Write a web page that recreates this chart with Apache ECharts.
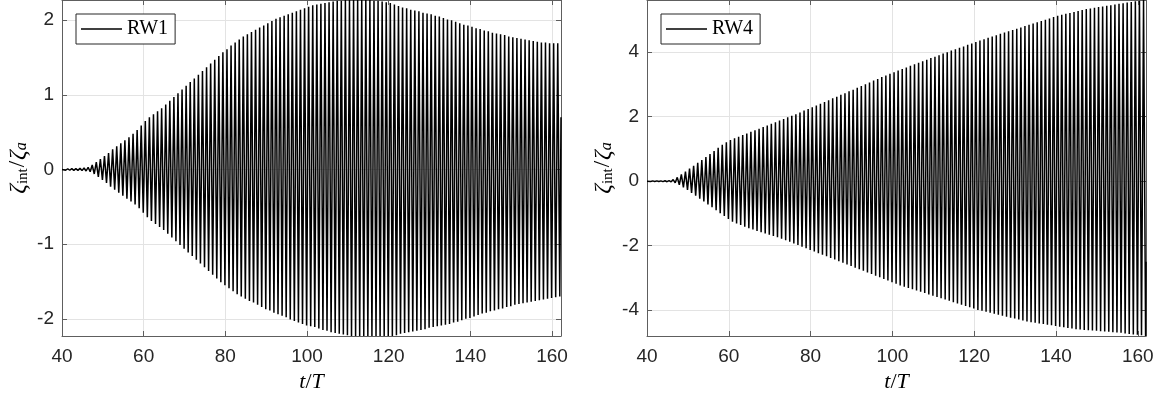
<!DOCTYPE html>
<html><head><meta charset="utf-8">
<script src="https://cdn.jsdelivr.net/npm/echarts@6/dist/echarts.min.js"></script>
<style>html,body{margin:0;padding:0;background:#fff}#c{width:1158px;height:398px}</style>
</head><body><div id="c"></div>
<script>
// ---- data ----
// One peak and one trough per wave period; index 0 is the cycle starting at t/T = 40
const firstCycle = 40;
const peakPhase = 0.4;    // peak position inside a cycle (t/T)
const troughPhase = 0.9;  // trough position inside a cycle (t/T)

const rw1Upper = [
  0.01,0.01,0.012,0.012,0.015,0.02,0.03,0.06,0.10,0.14,
  0.18,0.22,0.27,0.31,0.35,0.39,0.43,0.48,0.53,0.59,
  0.65,0.70,0.74,0.78,0.82,0.87,0.92,0.97,1.02,1.07,
  1.12,1.17,1.22,1.27,1.32,1.37,1.42,1.47,1.52,1.57,
  1.61,1.66,1.70,1.74,1.78,1.81,1.84,1.87,1.90,1.93,
  1.96,1.99,2.02,2.04,2.06,2.08,2.10,2.12,2.14,2.16,
  2.18,2.20,2.21,2.22,2.23,2.24,2.25,2.26,2.26,2.27,
  2.27,2.27,2.27,2.27,2.27,2.27,2.26,2.26,2.25,2.24,
  2.23,2.21,2.19,2.17,2.16,2.14,2.13,2.12,2.10,2.09,
  2.08,2.06,2.05,2.03,2.01,2.00,1.98,1.96,1.94,1.93,
  1.91,1.89,1.88,1.86,1.85,1.83,1.82,1.81,1.80,1.78,
  1.77,1.76,1.75,1.74,1.73,1.72,1.71,1.70,1.70,1.69,
  1.69,1.69
];
const rw1Lower = [
  -0.01,-0.01,-0.012,-0.012,-0.015,-0.02,-0.03,-0.06,-0.10,-0.14,
  -0.18,-0.23,-0.27,-0.31,-0.35,-0.39,-0.43,-0.47,-0.52,-0.58,
  -0.64,-0.69,-0.73,-0.77,-0.81,-0.86,-0.91,-0.96,-1.01,-1.06,
  -1.11,-1.16,-1.21,-1.26,-1.31,-1.36,-1.41,-1.46,-1.51,-1.55,
  -1.59,-1.63,-1.67,-1.70,-1.73,-1.76,-1.78,-1.81,-1.84,-1.87,
  -1.89,-1.92,-1.94,-1.96,-1.98,-2.01,-2.03,-2.05,-2.07,-2.09,
  -2.10,-2.11,-2.13,-2.15,-2.16,-2.18,-2.19,-2.20,-2.21,-2.22,
  -2.23,-2.23,-2.23,-2.23,-2.23,-2.23,-2.23,-2.23,-2.23,-2.23,
  -2.23,-2.22,-2.20,-2.19,-2.18,-2.17,-2.16,-2.15,-2.14,-2.12,
  -2.11,-2.10,-2.09,-2.08,-2.07,-2.05,-2.04,-2.02,-2.00,-1.99,
  -1.97,-1.95,-1.93,-1.92,-1.90,-1.89,-1.87,-1.86,-1.84,-1.83,
  -1.81,-1.80,-1.79,-1.78,-1.77,-1.76,-1.75,-1.74,-1.73,-1.72,
  -1.71,-1.70
];
const rw1Start = [40, 0];
const rw1End = [162.2, 0.70];

const rw4Upper = [
  0.01,0.01,0.01,0.012,0.015,0.02,0.05,0.12,0.21,0.30,
  0.39,0.48,0.57,0.66,0.75,0.84,0.94,1.04,1.13,1.21,
  1.28,1.33,1.38,1.43,1.48,1.53,1.58,1.63,1.68,1.73,
  1.78,1.83,1.88,1.93,1.98,2.03,2.08,2.13,2.19,2.24,
  2.29,2.35,2.40,2.46,2.51,2.57,2.62,2.68,2.73,2.79,
  2.84,2.90,2.95,3.01,3.06,3.12,3.17,3.23,3.28,3.33,
  3.38,3.43,3.48,3.53,3.58,3.63,3.67,3.72,3.77,3.82,
  3.86,3.91,3.96,4.00,4.05,4.09,4.14,4.18,4.23,4.27,
  4.32,4.36,4.40,4.45,4.49,4.53,4.57,4.61,4.65,4.69,
  4.73,4.77,4.81,4.85,4.89,4.93,4.97,5.01,5.05,5.09,
  5.13,5.16,5.19,5.22,5.25,5.28,5.31,5.34,5.36,5.38,
  5.40,5.42,5.44,5.46,5.48,5.50,5.52,5.54,5.56,5.58,
  5.60,5.62
];
const rw4Lower = [
  -0.01,-0.01,-0.01,-0.012,-0.015,-0.02,-0.05,-0.11,-0.19,-0.27,
  -0.36,-0.45,-0.54,-0.63,-0.72,-0.81,-0.90,-0.99,-1.08,-1.17,
  -1.26,-1.31,-1.36,-1.41,-1.46,-1.50,-1.54,-1.58,-1.62,-1.66,
  -1.70,-1.74,-1.78,-1.83,-1.88,-1.93,-1.98,-2.03,-2.08,-2.13,
  -2.18,-2.23,-2.28,-2.33,-2.38,-2.43,-2.48,-2.53,-2.58,-2.63,
  -2.68,-2.73,-2.78,-2.83,-2.88,-2.93,-2.98,-3.03,-3.08,-3.13,
  -3.18,-3.23,-3.27,-3.31,-3.35,-3.39,-3.43,-3.47,-3.51,-3.55,
  -3.59,-3.63,-3.67,-3.71,-3.75,-3.79,-3.83,-3.87,-3.91,-3.95,
  -3.99,-4.02,-4.05,-4.08,-4.11,-4.14,-4.17,-4.20,-4.23,-4.26,
  -4.29,-4.32,-4.35,-4.37,-4.39,-4.41,-4.43,-4.45,-4.47,-4.49,
  -4.51,-4.53,-4.55,-4.57,-4.59,-4.60,-4.61,-4.62,-4.63,-4.64,
  -4.65,-4.66,-4.67,-4.68,-4.69,-4.70,-4.72,-4.74,-4.75,-4.76,
  -4.78,-4.80
];
const rw4Start = [40, 0];
const rw4End = [162.0, -2.5];

// axis ranges and tick labels
const xTicks = [40, 60, 80, 100, 120, 140, 160];
const rw1YTicks = [-2, -1, 0, 1, 2];
const rw4YTicks = [-4, -2, 0, 2, 4];
const rw1XRange = [40, 162.2];
const rw4XRange = [40, 162.0];
const rw1YRange = [-2.23, 2.27];
const rw4YRange = [-4.80, 5.62];
const seriesNames = ['RW1', 'RW4'];

// ---- build ----
function build(start, upper, lower, end) {
  const d = [start.slice()];
  for (let i = 0; i < upper.length; i++) {
    d.push([firstCycle + i + peakPhase, upper[i]]);
    d.push([firstCycle + i + troughPhase, lower[i]]);
  }
  d.push(end.slice());
  return d;
}

const AX = '#5e5e5e';
const TXT = '#262626';
const GRIDC = '#e3e3e3';
const SANS = '"Liberation Sans", Arial, Helvetica, sans-serif';
const SERIF = '"Liberation Serif", "DejaVu Serif", serif';

function xMain(gi, range) {
  return {
    type: 'value', gridIndex: gi, position: 'bottom', min: range[0], max: range[1],
    axisLine: { show: true, onZero: false, lineStyle: { color: AX, width: 1 } },
    axisTick: { show: true, inside: true, length: 5, customValues: xTicks, lineStyle: { color: AX } },
    axisLabel: { show: true, customValues: xTicks, margin: 11, color: TXT, fontFamily: SANS, fontSize: 19 },
    splitLine: { show: true, lineStyle: { color: GRIDC, width: 1 } },
    name: '{i|t}{n|/}{i|T}', nameLocation: 'middle', nameGap: 33,
    nameTextStyle: {
      rich: {
        i: { fontFamily: SERIF, fontStyle: 'italic', fontSize: 22, color: '#000' },
        n: { fontFamily: SERIF, fontSize: 22, color: '#000' }
      }
    }
  };
}
function xTop(gi, range) {
  return {
    type: 'value', gridIndex: gi, position: 'top', min: range[0], max: range[1],
    axisLine: { show: true, onZero: false, lineStyle: { color: AX, width: 1 } },
    axisTick: { show: true, inside: true, length: 5, customValues: xTicks, lineStyle: { color: AX } },
    axisLabel: { show: false }, splitLine: { show: false }
  };
}
const yRich = {
  i: { fontFamily: SERIF, fontStyle: 'italic', fontSize: 24, lineHeight: 24, padding: [0, 0, 3, 0], verticalAlign: 'top', color: '#000' },
  n: { fontFamily: SERIF, fontSize: 23, lineHeight: 24, padding: [0, 1, 3, 1], verticalAlign: 'top', color: '#000' },
  s: { fontFamily: SERIF, fontSize: 15, lineHeight: 15, verticalAlign: 'bottom', color: '#000' },
  si: { fontFamily: SERIF, fontStyle: 'italic', fontSize: 16, lineHeight: 15, verticalAlign: 'bottom', color: '#000' }
};
function yMain(gi, range, ticks, gap) {
  return {
    type: 'value', gridIndex: gi, position: 'left', min: range[0], max: range[1],
    axisLine: { show: true, onZero: false, lineStyle: { color: AX, width: 1 } },
    axisTick: { show: true, inside: true, length: 5, customValues: ticks, lineStyle: { color: AX } },
    axisLabel: { show: true, customValues: ticks, margin: 8, color: TXT, fontFamily: SANS, fontSize: 19 },
    splitLine: { show: true, lineStyle: { color: GRIDC, width: 1 } },
    name: '{i|ζ}{s|int}{n|/}{i|ζ}{si|a}', nameLocation: 'middle', nameRotate: 90, nameGap: gap,
    nameTextStyle: { rich: yRich }
  };
}
function yRight(gi, range, ticks) {
  return {
    type: 'value', gridIndex: gi, position: 'right', min: range[0], max: range[1],
    axisLine: { show: true, onZero: false, lineStyle: { color: AX, width: 1 } },
    axisTick: { show: true, inside: true, length: 5, customValues: ticks, lineStyle: { color: AX } },
    axisLabel: { show: false }, splitLine: { show: false }
  };
}
function legend(name, left) {
  return {
    data: [name], left: left, top: 14, orient: 'horizontal',
    icon: 'rect', itemWidth: 41, itemHeight: 1.3,
    padding: [5, 7, 5, 5],
    backgroundColor: '#fff', borderColor: '#262626', borderWidth: 1, borderRadius: 0,
    textStyle: { fontFamily: SERIF, fontSize: 20, lineHeight: 19, color: '#000' },
    selectedMode: false
  };
}

const chart = echarts.init(document.getElementById('c'), null, { renderer: 'canvas' });
chart.setOption({
  animation: false,
  backgroundColor: '#fff',
  grid: [
    { left: 62, top: 0, width: 499, height: 336 },
    { left: 647, top: 0, width: 499, height: 336 }
  ],
  xAxis: [xMain(0, rw1XRange), xTop(0, rw1XRange), xMain(1, rw4XRange), xTop(1, rw4XRange)],
  yAxis: [yMain(0, rw1YRange, rw1YTicks, 27), yRight(0, rw1YRange, rw1YTicks),
          yMain(1, rw4YRange, rw4YTicks, 31), yRight(1, rw4YRange, rw4YTicks)],
  legend: [legend(seriesNames[0], 76), legend(seriesNames[1], 661)],
  series: [
    { name: seriesNames[0], type: 'line', xAxisIndex: 0, yAxisIndex: 0, showSymbol: false, symbol: 'none',
      lineStyle: { color: '#000', width: 1.5 }, itemStyle: { color: '#000' }, data: build(rw1Start, rw1Upper, rw1Lower, rw1End) },
    { name: seriesNames[1], type: 'line', xAxisIndex: 2, yAxisIndex: 2, showSymbol: false, symbol: 'none',
      lineStyle: { color: '#000', width: 1.5 }, itemStyle: { color: '#000' }, data: build(rw4Start, rw4Upper, rw4Lower, rw4End) }
  ]
});
</script></body></html>
